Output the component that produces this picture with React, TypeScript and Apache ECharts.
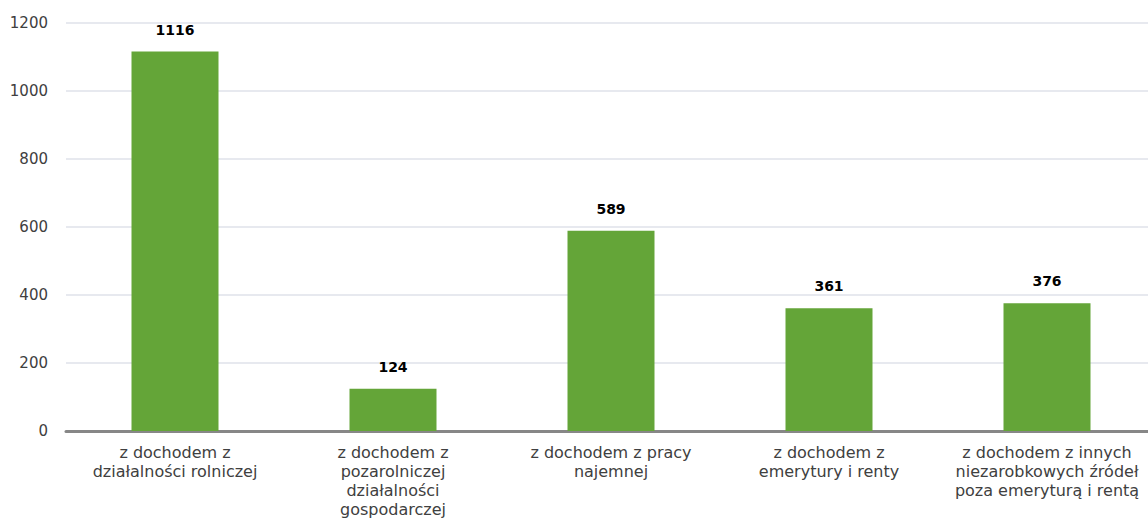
import React, { useEffect, useRef } from "react";
import * as echarts from "echarts";

const categories = [
  "z dochodem z\ndziałalności rolniczej",
  "z dochodem z\npozarolniczej\ndziałalności\ngospodarczej",
  "z dochodem z pracy\nnajemnej",
  "z dochodem z\nemerytury i renty",
  "z dochodem z innych\nniezarobkowych źródeł\npoza emeryturą i rentą",
];
const values = [1116, 124, 589, 361, 376];
const yMin = 0;
const yMax = 1200;
const yStep = 200;

const FONT = "'DejaVu Sans', sans-serif";

export default function App() {
  const ref = useRef<HTMLDivElement>(null);
  useEffect(() => {
    if (!ref.current) return;
    const chart = echarts.init(ref.current, undefined, { renderer: "svg" });
    chart.setOption({
      animation: false,
      backgroundColor: "#ffffff",
      grid: { left: 66, top: 23, width: 1090, height: 408, containLabel: false },
      xAxis: {
        type: "category",
        data: categories,
        axisLine: { show: true, lineStyle: { color: "#878787", width: 3 } },
        axisTick: { show: false },
        axisLabel: {
          color: "#404040",
          fontFamily: FONT,
          fontSize: 16,
          lineHeight: 19,
          margin: 12,
          interval: 0,
        },
      },
      yAxis: {
        type: "value",
        min: yMin,
        max: yMax,
        interval: yStep,
        axisLine: { show: false },
        axisTick: { show: false },
        splitLine: { lineStyle: { color: "#dfe2ea", width: 1.5 } },
        axisLabel: {
          color: "#404040",
          fontFamily: FONT,
          fontSize: 15,
          margin: 18,
          formatter: (v: number) => String(v),
        },
      },
      series: [
        {
          type: "bar",
          data: values,
          barWidth: 87,
          itemStyle: { color: "#64a538" },
          label: {
            show: true,
            position: "top",
            distance: 15,
            color: "#000000",
            fontWeight: "bold",
            fontFamily: FONT,
            fontSize: 14,
          },
        },
      ],
    });
    return () => chart.dispose();
  }, []);
  return (
    <div
      style={{
        position: "fixed",
        left: 0,
        top: 0,
        width: 1148,
        height: 531,
        overflow: "hidden",
        background: "#fff",
      }}
    >
      <div ref={ref} style={{ width: 1200, height: 580 }} />
    </div>
  );
}
